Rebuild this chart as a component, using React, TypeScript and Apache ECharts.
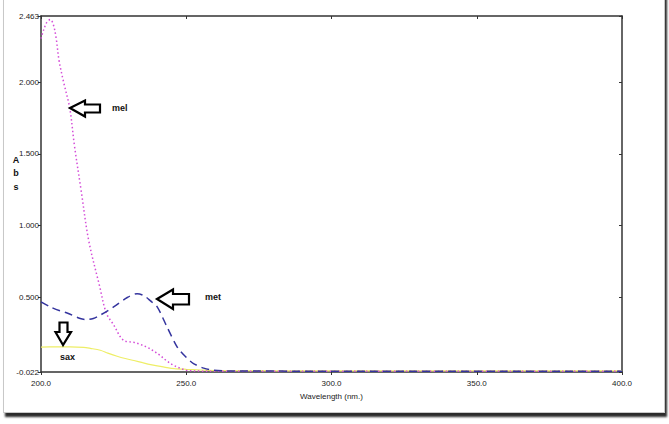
import React, { useEffect, useRef } from "react";
import * as echarts from "echarts";

const yTickValues = [-0.022, 0.5, 1.0, 1.5, 2.0, 2.463];
const xTickLabels = ["200.0", "250.0", "300.0", "350.0", "400.0"];

const melWavelength = [200, 201, 202, 203.2, 204.2, 205.2, 206.2, 207.8, 209.9, 211.5, 213.8, 216.4, 220.1, 222.5, 224.9, 228.4, 231.9, 234, 236.6, 238.5, 241, 243, 245.6, 248, 250, 255, 260, 300, 350, 400];
const melAbs = [2.305, 2.371, 2.418, 2.438, 2.406, 2.31, 2.154, 2.0, 1.819, 1.56, 1.247, 0.898, 0.583, 0.388, 0.311, 0.199, 0.185, 0.172, 0.15, 0.128, 0.094, 0.06, 0.025, 0.004, -0.01, -0.016, -0.017, -0.017, -0.017, -0.017];

const metWavelength = [200, 203.2, 206.5, 209.2, 213.5, 215.8, 218, 220.4, 225, 229.7, 233.1, 235.5, 237.7, 240, 243.4, 246.9, 250, 252.5, 256, 259.4, 265, 300, 350, 400];
const metAbs = [0.467, 0.432, 0.405, 0.388, 0.351, 0.344, 0.352, 0.375, 0.432, 0.498, 0.525, 0.51, 0.474, 0.432, 0.292, 0.152, 0.08, 0.037, 0.005, -0.01, -0.015, -0.016, -0.016, -0.016];

const saxWavelength = [200, 205, 210, 214.7, 217, 220.4, 223, 226.2, 229, 232, 235, 237.7, 240, 243.4, 246, 250, 255, 260, 300, 400];
const saxAbs = [0.152, 0.153, 0.153, 0.15, 0.143, 0.13, 0.11, 0.088, 0.072, 0.058, 0.043, 0.03, 0.021, 0.009, 0.002, -0.003, -0.008, -0.012, -0.014, -0.014];

const zip = (xs: number[], ys: number[]) => xs.map((x, i) => [x, ys[i]]);

const FONT = "'Liberation Sans Narrow', 'Liberation Sans', Arial, sans-serif";

export default function App() {
  const ref = useRef<HTMLDivElement>(null);
  useEffect(() => {
    if (!ref.current) return;
    const chart = echarts.init(ref.current, undefined, { renderer: "svg" });
    const axisLine = { show: true, onZero: false, lineStyle: { color: "#333", width: 1.5 } };
    const arrowStyle = { fill: "#fff", stroke: "#000", lineWidth: 2.2 };
    const labelStyle = { fill: "#111", font: `bold 9px ${FONT}` };
    chart.setOption({
      animation: false,
      backgroundColor: "transparent",
      grid: { left: 41, right: 47, top: 16, bottom: 52 },
      xAxis: [
        {
          type: "value",
          min: 200,
          max: 400,
          interval: 50,
          position: "bottom",
          axisLine,
          splitLine: { show: false },
          axisTick: { show: true, inside: false, length: 3, lineStyle: { color: "#333" } },
          axisLabel: {
            fontFamily: FONT,
            fontSize: 8,
            color: "#222",
            margin: 7,
            formatter: (v: number) => xTickLabels[Math.round((v - 200) / 50)],
          },
          name: "Wavelength (nm.)",
          nameLocation: "middle",
          nameGap: 20,
          nameTextStyle: { fontFamily: FONT, fontSize: 8, color: "#222" },
        },
        {
          type: "value",
          min: 200,
          max: 400,
          interval: 50,
          position: "top",
          axisLine,
          splitLine: { show: false },
          axisTick: { show: true, inside: true, length: 3, lineStyle: { color: "#333" } },
          axisLabel: { show: false },
        },
      ],
      yAxis: [
        {
          type: "value",
          min: -0.022,
          max: 2.463,
          position: "left",
          axisLine,
          splitLine: { show: false },
          axisTick: { show: true, inside: false, length: 3, customValues: yTickValues, lineStyle: { color: "#333" } },
          axisLabel: {
            fontFamily: FONT,
            fontSize: 8,
            color: "#222",
            margin: 2,
            customValues: yTickValues,
            formatter: (v: number) => v.toFixed(3),
          },
        },
        {
          type: "value",
          min: -0.022,
          max: 2.463,
          position: "right",
          axisLine,
          splitLine: { show: false },
          axisTick: { show: true, inside: true, length: 3, customValues: yTickValues, lineStyle: { color: "#333" } },
          axisLabel: { show: false },
        },
      ],
      series: [
        {
          name: "sax",
          type: "line",
          data: zip(saxWavelength, saxAbs),
          smooth: 0.3,
          showSymbol: false,
          lineStyle: { color: "#eeee66", width: 1.2, type: "solid" },
          z: 2,
        },
        {
          name: "mel",
          type: "line",
          data: zip(melWavelength, melAbs),
          smooth: 0.35,
          showSymbol: false,
          lineStyle: { color: "#d44cd8", width: 1.5, type: [1.5, 2.5] },
          z: 3,
        },
        {
          name: "met",
          type: "line",
          data: zip(metWavelength, metAbs),
          smooth: 0.3,
          showSymbol: false,
          lineStyle: { color: "#34349e", width: 1.5, type: [8, 5] },
          z: 4,
        },
      ],
      graphic: [
        {
          type: "polygon",
          shape: { points: [[70, 108], [85, 100.5], [85, 104.5], [100, 104.5], [100, 112.5], [85, 112.5], [85, 116.5]] },
          style: arrowStyle,
          z: 10,
        },
        { type: "text", x: 112, y: 108, style: { ...labelStyle, text: "mel", verticalAlign: "middle" }, z: 10 },
        {
          type: "polygon",
          shape: { points: [[157, 299], [173, 289.5], [173, 294], [189, 294], [189, 304.5], [173, 304.5], [173, 309]] },
          style: arrowStyle,
          z: 10,
        },
        { type: "text", x: 205, y: 297, style: { ...labelStyle, text: "met", verticalAlign: "middle" }, z: 10 },
        {
          type: "polygon",
          shape: { points: [[63, 345], [55.5, 332], [59.5, 332], [59.5, 322.5], [67.5, 322.5], [67.5, 332], [71, 332]] },
          style: arrowStyle,
          z: 10,
        },
        { type: "text", x: 60, y: 357, style: { ...labelStyle, text: "sax", verticalAlign: "middle" }, z: 10 },
        { type: "text", x: 16, y: 160, style: { ...labelStyle, text: "A", align: "center", verticalAlign: "middle" }, z: 10 },
        { type: "text", x: 16, y: 173, style: { ...labelStyle, text: "b", align: "center", verticalAlign: "middle" }, z: 10 },
        { type: "text", x: 16, y: 187, style: { ...labelStyle, text: "s", align: "center", verticalAlign: "middle" }, z: 10 },
      ],
    });
    return () => chart.dispose();
  }, []);
  return (
    <div style={{ position: "absolute", left: 0, top: 0, width: 669, height: 424, background: "#fff", overflow: "hidden" }}>
      <div
        style={{
          position: "absolute",
          left: 3,
          top: -6,
          width: 660,
          height: 417,
          background: "#fff",
          border: "1px solid #c8c8c8",
          boxShadow: "2px 4px 2px rgba(20,20,20,0.9)",
        }}
      />
      <div ref={ref} style={{ position: "absolute", left: 0, top: 0, width: 669, height: 424 }} />
    </div>
  );
}
